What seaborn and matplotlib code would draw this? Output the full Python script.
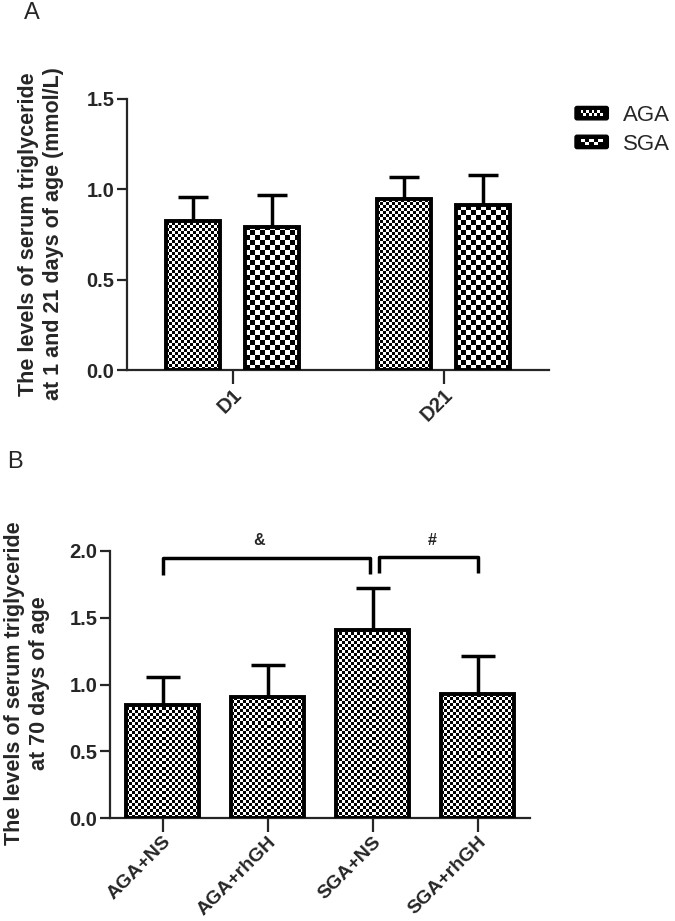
import numpy as np
import pandas as pd
import matplotlib
matplotlib.use("Agg")
import matplotlib.pyplot as plt
import seaborn as sns
from matplotlib.patches import Rectangle, Patch, FancyBboxPatch
from matplotlib.legend_handler import HandlerBase

# ---------------- data ----------------
days_A = ["D1", "D21"]
series_A = ["AGA", "SGA"]
mean_AGA = [0.825, 0.945]
sd_AGA = [0.135, 0.125]
mean_SGA = [0.79, 0.913]
sd_SGA = [0.18, 0.165]
yticks_A = [0.0, 0.5, 1.0, 1.5]

groups_B = ["AGA+NS", "AGA+rhGH", "SGA+NS", "SGA+rhGH"]
mean_B = [0.846, 0.909, 1.408, 0.929]
sd_B = [0.212, 0.237, 0.317, 0.284]
yticks_B = [0.0, 0.5, 1.0, 1.5, 2.0]

bracket_pairs = [(0, 2), (2, 3)]
bracket_labels = ["&", "#"]
bracket_heights = [1.95, 1.955]

ylabel_A = "The levels of serum triglyceride\nat 1 and 21 days of age (mmol/L)"
ylabel_B = "The levels of serum triglyceride\nat 70 days of age"

# ---------------- style ----------------
sns.set_style("ticks")
plt.rcParams["font.family"] = ["Liberation Sans", "DejaVu Sans"]
plt.rcParams["axes.linewidth"] = 1.6

W, H = 675, 921
fig = plt.figure(figsize=(W / 100, H / 100), dpi=100)

def fpos(l, t, r, b):
    return [l / W, 1 - b / H, (r - l) / W, (b - t) / H]

axA = fig.add_axes(fpos(127, 99, 549, 370))
axB = fig.add_axes(fpos(110, 551, 530, 818))

cell_px = {"AGA": 3, "SGA": 5}
EDGE_LW = 2.8

def fill_checker(ax, patch, cell):
    bb = patch.get_bbox()
    px0, py0 = ax.transData.transform((bb.x0, bb.y0))
    px1, py1 = ax.transData.transform((bb.x1, bb.y1))
    w, h = px1 - px0, py1 - py0
    nx = int(np.ceil(w / cell)) + 1
    ny = int(np.ceil(h / cell)) + 1
    arr = (np.add.outer(np.arange(ny), np.arange(nx)) % 2).astype(float)
    inv = ax.transData.inverted()
    ex1, ey1 = inv.transform((px0 + nx * cell, py0 + ny * cell))
    im = ax.imshow(arr, cmap="gray", vmin=0, vmax=1,
                   extent=(bb.x0, ex1, bb.y0, ey1), origin="lower",
                   interpolation="nearest", aspect="auto", zorder=2)
    im.set_clip_path(patch)

def style_axes(ax, yt, ylim, xn):
    ax.set_ylim(*ylim)
    ax.set_xlim(-0.5, xn - 0.5)
    ax.set_yticks(yt)
    ax.set_yticklabels([f"{v:.1f}" for v in yt], fontsize=14.5, fontweight="bold")
    ax.tick_params(axis="y", length=7, width=1.6, pad=2)
    ax.tick_params(axis="x", length=10, width=1.6, pad=1)
    ax.set_xlabel("")
    ax.set_ylabel("")
    sns.despine(ax=ax)

# ---------------- panel A ----------------
dfA = pd.DataFrame({
    "day": days_A * 2,
    "group": [series_A[0]] * len(days_A) + [series_A[1]] * len(days_A),
    "value": mean_AGA + mean_SGA,
})
sns.barplot(data=dfA, x="day", y="value", hue="group", order=days_A,
            hue_order=series_A, width=0.75, gap=0.31, errorbar=None,
            legend=False, ax=axA)
style_axes(axA, yticks_A, (0, 1.5), len(days_A))
axA.set_xticks(range(len(days_A)))
axA.set_xticklabels(days_A, rotation=45, ha="right", rotation_mode="anchor",
                    fontsize=14.5, fontweight="bold")

barsA = sorted(axA.patches, key=lambda p: p.get_x())
meansA_sorted, sdsA_sorted, serA_sorted = [], [], []
for i in range(len(days_A)):
    meansA_sorted += [mean_AGA[i], mean_SGA[i]]
    sdsA_sorted += [sd_AGA[i], sd_SGA[i]]
    serA_sorted += series_A
for p, s in zip(barsA, serA_sorted):
    p.set_facecolor("none")
    p.set_edgecolor("black")
    p.set_linewidth(EDGE_LW)
    p.set_zorder(3)
    fill_checker(axA, p, cell_px[s])
xA = [p.get_x() + p.get_width() / 2 for p in barsA]
axA.errorbar(xA, meansA_sorted, yerr=[np.zeros(len(xA)), sdsA_sorted],
             fmt="none", ecolor="black", elinewidth=2.5, capsize=11,
             capthick=2.5, zorder=1)

# legend
class CheckerHandler(HandlerBase):
    def __init__(self, ncols):
        super().__init__()
        self.ncols = ncols

    def create_artists(self, legend, orig_handle, xdescent, ydescent,
                       width, height, fontsize, trans):
        x0, y0 = -xdescent, -ydescent
        outer = FancyBboxPatch((x0, y0), width, height,
                               boxstyle="round,pad=0,rounding_size=1.5",
                               facecolor="black", edgecolor="black", lw=1,
                               transform=trans)
        arts = [outer]
        ix0, ix1 = x0 + 0.17 * width, x0 + 0.83 * width
        iy0, iy1 = y0 + 0.25 * height, y0 + 0.75 * height
        arts.append(Rectangle((ix0, iy0), ix1 - ix0, iy1 - iy0,
                              facecolor="white", edgecolor="none",
                              transform=trans))
        nr = 2
        cw = (ix1 - ix0) / self.ncols
        ch = (iy1 - iy0) / nr
        for r in range(nr):
            for c in range(self.ncols):
                if (r + c) % 2 == 0:
                    arts.append(Rectangle((ix0 + c * cw, iy0 + r * ch), cw, ch,
                                          facecolor="black", edgecolor="none",
                                          transform=trans))
        return arts

h1 = Patch(label=series_A[0])
h2 = Patch(label=series_A[1])
fig.legend(handles=[h1, h2], labels=series_A, loc="upper left",
           bbox_to_anchor=(575 / W, 1 - 105 / H), frameon=False,
           fontsize=16, borderpad=0, borderaxespad=0, handlelength=1.5,
           handleheight=0.55, handletextpad=0.65, labelspacing=0.35,
           handler_map={h1: CheckerHandler(8), h2: CheckerHandler(5)})

# ---------------- panel B ----------------
dfB = pd.DataFrame({"group": groups_B, "value": mean_B})
sns.barplot(data=dfB, x="group", y="value", order=groups_B, width=0.686,
            errorbar=None, color="white", ax=axB)
style_axes(axB, yticks_B, (0, 2.0), len(groups_B))
axB.set_xticks(range(len(groups_B)))
axB.set_xticklabels(groups_B, rotation=45, ha="right", rotation_mode="anchor",
                    fontsize=14, fontweight="bold")
barsB = sorted(axB.patches, key=lambda p: p.get_x())
for p in barsB:
    p.set_facecolor("none")
    p.set_edgecolor("black")
    p.set_linewidth(EDGE_LW)
    p.set_zorder(3)
    fill_checker(axB, p, cell_px["AGA"])
xB = [p.get_x() + p.get_width() / 2 for p in barsB]
axB.errorbar(xB, mean_B, yerr=[np.zeros(len(xB)), sd_B], fmt="none",
             ecolor="black", elinewidth=2.5, capsize=12, capthick=2.5, zorder=1)

# significance brackets
offs = [(0.0, -0.02), (0.06, 0.0)]
legs = [(0.13, 0.12), (0.12, 0.12)]
for (a, b), lab, hgt, (oa, ob), (la, lb) in zip(bracket_pairs, bracket_labels,
                                                 bracket_heights, offs, legs):
    xa, xb = xB[a] + oa, xB[b] + ob
    axB.plot([xa, xa, xb, xb], [hgt - la, hgt, hgt, hgt - lb], color="black",
             lw=2.5, solid_capstyle="butt", clip_on=False, zorder=4)
    axB.text((xa + xb) / 2 - (0.07 if lab == "&" else -0.04), hgt + 0.07, lab,
             ha="center", va="bottom", fontsize=11.5, fontweight="bold",
             clip_on=False)

# labels
fig.text(41 / W, 1 - 234 / H, ylabel_A, rotation=90, ha="center", va="center",
         fontsize=15.5, fontweight="bold", linespacing=1.3, multialignment="center")
fig.text(27 / W, 1 - 683 / H, ylabel_B, rotation=90, ha="center", va="center",
         fontsize=15.5, fontweight="bold", linespacing=1.3, multialignment="center")
fig.text(32 / W, 1 - 13 / H, "A", ha="center", va="center", fontsize=17)
fig.text(15 / W, 1 - 462 / H, "B", ha="center", va="center", fontsize=17)

fig.savefig("out.png", dpi=100)
